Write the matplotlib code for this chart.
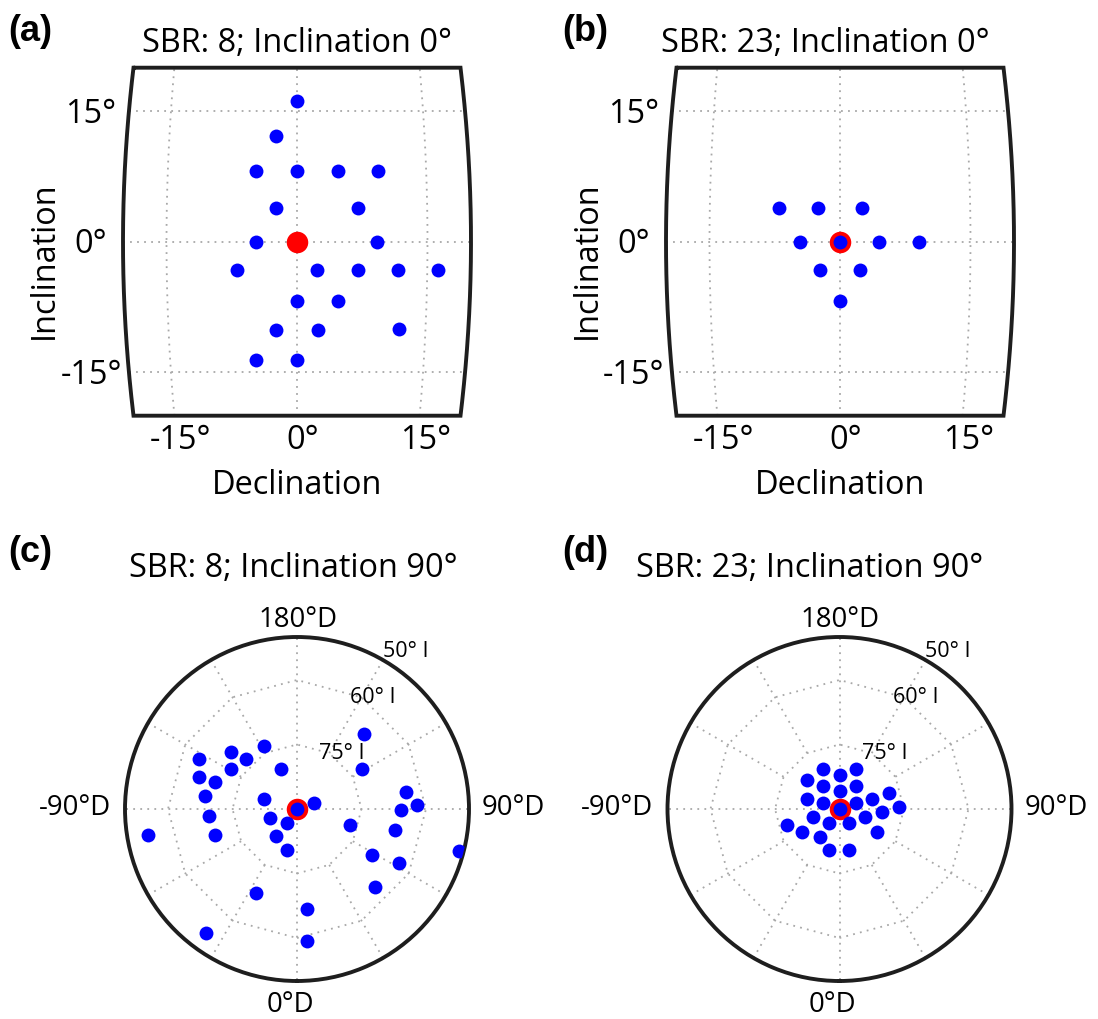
import numpy as np
import matplotlib
matplotlib.use("Agg")
import matplotlib.pyplot as plt
from matplotlib import transforms as mtransforms

# ---------------- data (degrees) ----------------
# (a) SBR 8, true inclination 0
a_dec = [0.0, -2.5, -4.8, 0.0, 4.8, 9.4, -2.4, 7.0, -4.7, 9.2, -6.9, 2.3, 7.0,
         11.6, 16.2, 0.0, 4.7, -2.5, 2.4, 11.9, -4.8, 0.0]
a_inc = [16.2, 12.1, 8.1, 8.1, 8.1, 8.1, 3.9, 3.9, 0.0, 0.0, -3.3, -3.3, -3.3,
         -3.3, -3.3, -6.8, -6.8, -10.2, -10.2, -10.0, -13.6, -13.6]
# (b) SBR 23, true inclination 0
b_dec = [-7.0, -2.5, 2.5, -4.6, 0.0, 4.5, 9.1, -2.3, 2.3, 0.0]
b_inc = [3.9, 3.9, 3.9, 0.0, 0.0, 0.0, 0.0, -3.3, -3.3, -6.8]
# (c) SBR 8, true inclination 90
c_dec = [138.3, -152.0, -117.0, -130.7, -134.8, 121.3, -158.0, -120.9, -108.2,
         -108.3, 99.0, -98.1, -106.5, 108.3, 0.0, 91.9, 89.5, -85.5, -71.2,
         -35.8, 72.7, 77.7, -80.2, -72.5, -37.3, -13.3, 75.6, 58.2, 62.3, 45.1,
         -26.2, 6.0, -36.2, 4.5]
c_inc = [66.6, 73.5, 64.3, 69.7, 73.4, 72.3, 80.0, 72.0, 66.1, 69.9, 64.4, 68.3,
         81.9, 85.8, 90.0, 62.0, 65.7, 69.4, 83.3, 86.1, 77.1, 66.6, 54.8, 70.0,
         82.0, 80.1, 51.1, 69.6, 63.1, 64.4, 68.3, 66.7, 54.2, 59.2]
# (d) SBR 23, true inclination 90
d_dec = [-157.5, 157.1, 178.9, -131.9, -144.3, 143.7, 177.8, 108.1, -107.2, 107.0,
         -109.0, 108.6, 92.2, 0.0, 86.5, -72.5, 72.0, -37.7, 35.8, -72.5, -58.2,
         58.2, -35.9, -14.2, 13.3]
d_inc = [80.0, 80.0, 82.0, 80.0, 83.5, 83.4, 85.9, 77.9, 82.2, 82.1, 86.0, 85.9,
         76.2, 90.0, 80.0, 83.6, 83.8, 86.0, 86.1, 77.3, 79.8, 79.8, 82.1, 80.1,
         80.1]
true_dec_top, true_inc_top = 0.0, 0.0
true_dec_pol, true_inc_pol = 0.0, 90.0

map_ticks = [-15, 0, 15]
map_limit = 20
ring_incs = [75, 60]
ring_label_incs = [75, 60, 50]
outer_inc = 50
spoke_decs = list(range(-150, 181, 30))
card_labels = {180: "180°D", 0: "0°D", -90: "-90°D", 90: "90°D"}
titles = ["SBR: 8; Inclination 0°", "SBR: 23; Inclination 0°",
          "SBR: 8; Inclination 90°", "SBR: 23; Inclination 90°"]
letters = ["(a)", "(b)", "(c)", "(d)"]

# ---------------- style ----------------
W, H, DPI = 1098, 1019, 100
plt.rcParams['font.family'] = ['Open Sans', 'DejaVu Sans']
FS = 23.4
FRAME = dict(color='#1e1e1e', lw=2.8, solid_capstyle='butt', solid_joinstyle='miter')
GRID = dict(color='#a8a8a8', lw=1.3, linestyle=(0, (1, 2.9)))
BLUE, RED = '#0000ff', '#ff0000'

fig = plt.figure(figsize=(W / DPI, H / DPI), dpi=DPI)


def box(cx, cy, hw, hh):
    return [(cx - hw) / W, 1 - (cy + hh) / H, 2 * hw / W, 2 * hh / H]


def ftext(x, y, s, **kw):
    return fig.text(x / W, 1 - y / H, s, **kw)


def shifted(ax, dx, dy):
    return ax.transData + mtransforms.ScaledTranslation(dx / DPI, -dy / DPI, fig.dpi_scale_trans)


S = 8.7          # px per degree in map panels
XL, YL = 22.0, 21.0


def proj(lon, lat):
    lon = np.asarray(lon, float)
    lat = np.asarray(lat, float)
    return lon * np.cos(np.radians(lat)), lat


def map_panel(cx, cy, dec, inc, hollow):
    ax = fig.add_axes(box(cx, cy, XL * S, YL * S))
    ax.set_xlim(-XL, XL)
    ax.set_ylim(-YL, YL)
    ax.axis('off')
    L = map_limit
    t = np.linspace(-L, L, 200)
    for tk in map_ticks:
        x, y = proj(np.full_like(t, tk), t)
        ax.plot(x, y, zorder=1, **GRID)
        x, y = proj(t, np.full_like(t, tk))
        ax.plot(x, y, zorder=1, **GRID)
    # frame
    lon = np.concatenate([t, np.full_like(t, L), t[::-1], np.full_like(t, -L)])
    lat = np.concatenate([np.full_like(t, L), t[::-1], np.full_like(t, -L), t])
    x, y = proj(lon, lat)
    ax.plot(np.append(x, x[:2]), np.append(y, y[:2]), zorder=5, clip_on=False, **FRAME)
    # points
    tx, ty = proj(true_dec_top, true_inc_top)
    px_, py_ = proj(dec, inc)
    if hollow:
        ax.plot(tx, ty, 'o', color=RED, ms=15.5, mew=0, zorder=3)
        ax.plot(px_, py_, 'o', color=BLUE, ms=10, mew=0, zorder=4, linestyle='none')
    else:
        ax.plot(px_, py_, 'o', color=BLUE, ms=10, mew=0, zorder=3, linestyle='none')
        ax.plot(tx, ty, 'o', color=RED, ms=15.5, mew=0, zorder=4)
    # tick labels
    for tk in map_ticks:
        ax.text(tk * np.cos(np.radians(L)), -L, f"{tk}°", transform=shifted(ax, 6, 33),
                ha='center', va='baseline', fontsize=FS)
        ax.text(-206 / S, tk, f"{tk}°", transform=shifted(ax, 0, 11.6),
                ha='center', va='baseline', fontsize=FS)
    ftext(cx, 494, "Declination", ha='center', va='baseline', fontsize=FS)
    ftext(cx - 244, 260, "Inclination", ha='center', va='baseline', rotation=90,
          rotation_mode='anchor', fontsize=FS)
    return ax


R = 172.0  # px radius of polar panels


def polar_panel(cx, cy, dec, inc):
    ax = fig.add_axes(box(cx, cy, R, R), projection='polar')
    ax.set_theta_zero_location('S')
    ax.set_theta_direction(1)
    rmax = 90 - outer_inc
    ax.set_ylim(0, rmax)
    ax.set_xticks([])
    ax.set_yticks([])
    ax.grid(False)
    ax.spines['polar'].set(linewidth=2.8, color='#1e1e1e')
    for d in spoke_decs:
        r0 = 0 if d % 90 == 0 else 90 - ring_incs[0]
        ax.plot([np.radians(d)] * 2, [r0, rmax], zorder=1, **GRID)
    th = np.radians(np.arange(0, 361, 30))
    for ri in ring_incs:
        ax.plot(th, np.full_like(th, 90 - ri, dtype=float), zorder=1, **GRID)
    ax.plot(np.radians(true_dec_pol), 90 - true_inc_pol, 'o', color=RED, ms=15.5, mew=0, zorder=3)
    ax.plot(np.radians(dec), 90 - np.asarray(inc), 'o', color=BLUE, ms=10, mew=0,
            linestyle='none', zorder=4)
    # ring labels
    lab_pos = {75: (156.2, 12.7), 60: (153.4, 27.6), 50: (150.5, 40.6)}
    for ri in ring_label_incs:
        dd, rr = lab_pos[ri]
        ax.text(np.radians(dd), rr, f"{ri}° I", ha='left', va='baseline',
                fontsize=15.5, clip_on=False)
    fs2 = 19.8
    ftext(cx + 1, cy - 182, card_labels[180], ha='center', va='baseline', fontsize=fs2)
    ftext(cx - 7, cy + 203, card_labels[0], ha='center', va='baseline', fontsize=fs2)
    ftext(cx - 186, cy + 6, card_labels[-90], ha='right', va='baseline', fontsize=fs2)
    ftext(cx + 185, cy + 6, card_labels[90], ha='left', va='baseline', fontsize=fs2)
    return ax


map_panel(297, 241.7, a_dec, a_inc, hollow=False)
map_panel(840, 241.7, b_dec, b_inc, hollow=True)
polar_panel(297, 809, c_dec, c_inc)
polar_panel(839.5, 809, d_dec, d_inc)

# titles & panel letters
ftext(297, 52, titles[0], ha='center', va='baseline', fontsize=FS)
ftext(825, 52, titles[1], ha='center', va='baseline', fontsize=FS)
ftext(293, 577, titles[2], ha='center', va='baseline', fontsize=FS)
ftext(810, 577, titles[3], ha='center', va='baseline', fontsize=FS)
for lt, (x, y) in zip(letters, [(8, 41), (562, 41), (8, 562), (562, 562)]):
    ftext(x, y, lt, ha='left', va='baseline', fontsize=26, fontweight='bold',
          family=['Liberation Sans', 'DejaVu Sans'])

fig.savefig("out.png", dpi=DPI)
